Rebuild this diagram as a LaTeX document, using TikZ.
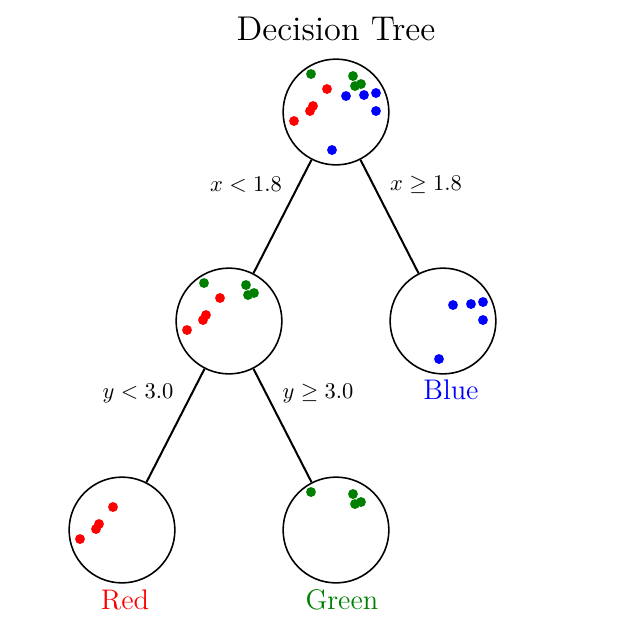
\documentclass[tikz,border=0pt]{standalone}
\usetikzlibrary{calc}

\definecolor{dgreen}{RGB}{0,128,0}

\tikzset{
  split/.style={circle, draw, line width=0.7pt, minimum size=47pt, inner sep=0pt},
  branch/.style={line width=0.9pt},
  cond/.style={font=\normalsize},
  leaf/.style={font=\large, scale=1.05, transform shape},
  pt/.style={fill=#1},
}

% data points, drawn relative to a tree node
\newcommand{\reddots}[1]{\foreach \dx/\dy in {-9/-23,-23/-6,-26/-1,-42/9} \fill[pt=red] ($(#1)+(\dx,\dy)$) circle (2.2pt);}
\newcommand{\greendots}[1]{\foreach \dx/\dy in {-25/-38,17/-36,19/-26,25/-28} \fill[pt=dgreen] ($(#1)+(\dx,\dy)$) circle (2.2pt);}
\newcommand{\bluedots}[1]{\foreach \dx/\dy in {10/-16,28/-17,40/-19,40/-1,-4/38} \fill[pt=blue] ($(#1)+(\dx,\dy)$) circle (2.2pt);}

\begin{document}
\begin{tikzpicture}[x=0.4444pt, y=-0.4444pt]
    \useasboundingbox (0,0) rectangle (627,634);

    \node[font=\Large, scale=1.06, transform shape] (title) at (336,29) {Decision Tree};

    %% tree nodes
    \node[split] (n0) at (336,112) {};
    \node[split] (n1) at (229,321) {};
    \node[split] (n2) at (443,321) {};
    \node[split] (n3) at (122,530) {};
    \node[split] (n4) at (336,530) {};

    %% branches
    \draw[branch] (n0) -- (n1);
    \draw[branch] (n0) -- (n2);
    \draw[branch] (n1) -- (n3);
    \draw[branch] (n1) -- (n4);

    %% split conditions
    \node[cond] (c1) at (246,185) {$x < 1.8$};
    \node[cond] (c2) at (426,185) {$x \geq 1.8$};
    \node[cond] (c3) at (138,393) {$y < 3.0$};
    \node[cond] (c4) at (318,393) {$y \geq 3.0$};

    %% points
    \reddots{n0} \greendots{n0} \bluedots{n0}
    \reddots{n1} \greendots{n1}
    \bluedots{n2}
    \reddots{n3}
    \greendots{n4}

    %% leaf classes
    \node[leaf, text=blue] (l2) at (451,390) {Blue};
    \node[leaf, text=red] (l3) at (125,600) {Red};
    \node[leaf, text=dgreen] (l4) at (342,600) {Green};
\end{tikzpicture}
\end{document}
